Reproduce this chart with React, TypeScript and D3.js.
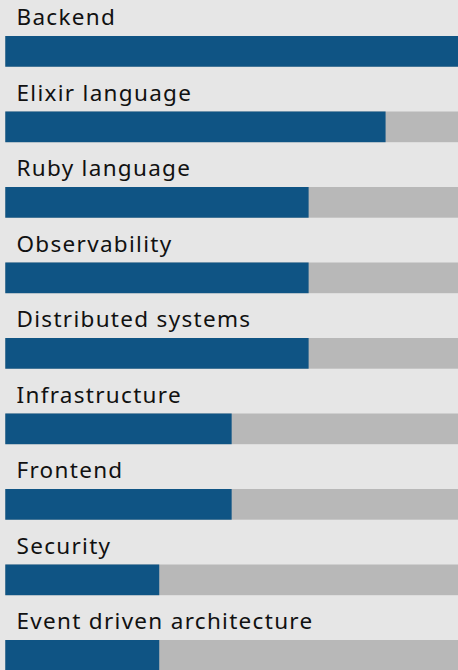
import React, { useRef, useEffect } from "react";
import * as d3 from "d3";

const skills = [
  "Backend",
  "Elixir language",
  "Ruby language",
  "Observability",
  "Distributed systems",
  "Infrastructure",
  "Frontend",
  "Security",
  "Event driven architecture",
];
const levels = [100, 84, 67, 67, 67, 50, 50, 34, 34];

const App = () => {
  const ref = useRef<SVGSVGElement>(null);

  useEffect(() => {
    const width = 458;
    const height = 670;
    const svg = d3.select(ref.current);
    svg.selectAll("*").remove();

    svg
      .append("rect")
      .attr("width", width)
      .attr("height", height)
      .attr("fill", "#e6e6e6");

    // x scale for bar lengths, y scale for rows
    const x = d3.scaleLinear().domain([0, 100]).range([5.3, 458]);
    const y = d3
      .scaleBand()
      .domain(skills)
      .range([0, 75.5 * skills.length]);

    const row = svg
      .selectAll(".row")
      .data(skills)
      .enter()
      .append("g")
      .attr("class", "row")
      .attr("transform", (d) => `translate(0, ${y(d)})`);

    row
      .append("text")
      .attr("x", 16.5)
      .attr("y", 25)
      .attr("font-family", "'Noto Sans'")
      .attr("font-size", 22.5)
      .attr("letter-spacing", 1.3)
      .attr("fill", "#111")
      .text((d) => d);

    // grey track
    row
      .append("rect")
      .attr("x", x(0))
      .attr("y", 36)
      .attr("width", x(100) - x(0))
      .attr("height", 30.7)
      .attr("fill", "#b8b8b8");

    // level bar
    row
      .append("rect")
      .attr("x", x(0))
      .attr("y", 36)
      .attr("width", (d, i) => x(levels[i]) - x(0))
      .attr("height", 30.7)
      .attr("fill", "#0f5484");
  }, []);

  return (
    <svg
      ref={ref}
      width={458}
      height={670}
      style={{ position: "absolute", left: 0, top: 0 }}
    />
  );
};

export default App;
